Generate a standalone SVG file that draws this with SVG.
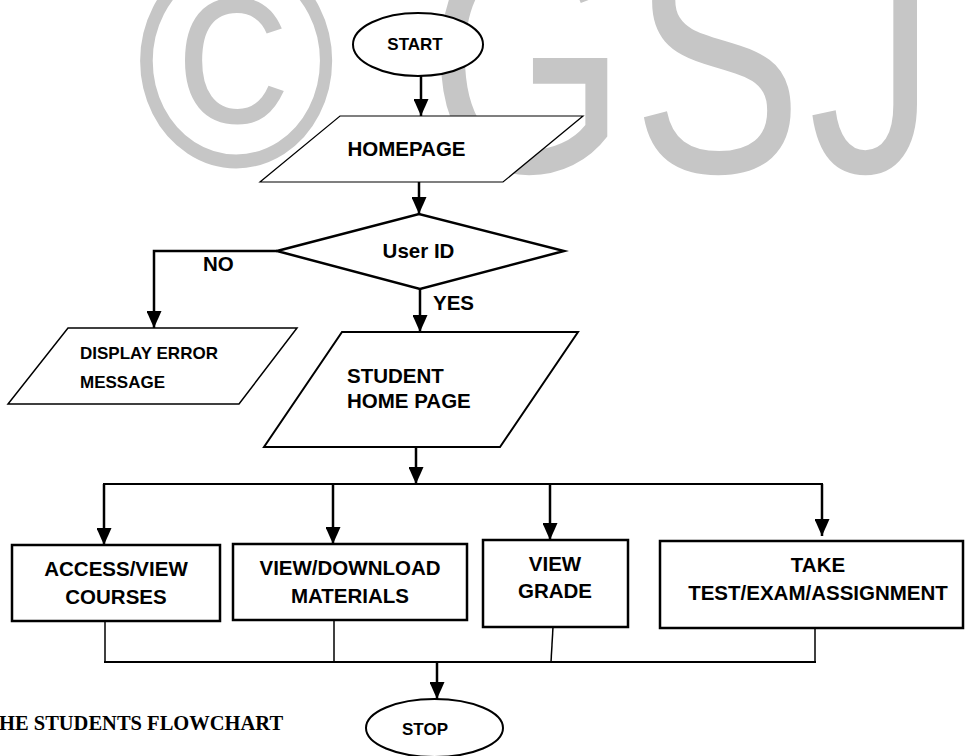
<svg xmlns="http://www.w3.org/2000/svg" width="967" height="756" viewBox="0 0 967 756">
  <defs>
    <style>
      .wm { font-family: "Liberation Sans", Arial, sans-serif; fill: #c6c6c6; }
      .shape { fill: #ffffff; stroke: #000000; }
      .lbl { font-family: "Liberation Sans", Arial, sans-serif; font-weight: bold; font-size: 20.5px; fill: #000000; }
      .lbl-sm { font-family: "Liberation Sans", Arial, sans-serif; font-weight: bold; font-size: 17px; fill: #000000; }
      .cap { font-family: "Liberation Serif", "Times New Roman", serif; font-weight: bold; font-size: 20.5px; fill: #000000; }
      .arrow { fill: none; stroke: #000000; stroke-width: 2.5; marker-end: url(#ah); }
      .line { fill: none; stroke: #000000; stroke-width: 1.5; }
      .bus { fill: none; stroke: #000000; stroke-width: 2; }
    </style>
    <marker id="ah" viewBox="0 0 17 15" markerUnits="userSpaceOnUse" markerWidth="17" markerHeight="15" refX="17" refY="7.5" orient="auto">
      <path d="M0,0 L17,7.5 L0,15 Z" fill="#000000"/>
    </marker>
  </defs>

  <rect x="0" y="0" width="967" height="756" fill="#ffffff"/>

  <g id="watermark">
    <text class="wm" x="136" y="0" font-size="272" transform="translate(0,166) scale(1,1.12)">©</text>
    <text class="wm" x="428" y="0" font-size="255" letter-spacing="6" transform="translate(0,172) scale(1,1.3)">GSJ</text>
  </g>

  <g id="connectors">
    <line class="arrow" x1="421" y1="76" x2="421" y2="116"/>
    <line class="arrow" x1="419" y1="182" x2="419" y2="214"/>
    <polyline class="arrow" points="277,251 154,251 154,328"/>
    <line class="arrow" x1="420" y1="289" x2="420" y2="332"/>
    <line class="arrow" x1="416" y1="447" x2="416" y2="484"/>
    <line class="bus" x1="103" y1="484" x2="823" y2="484"/>
    <line class="arrow" x1="104" y1="484" x2="104" y2="545"/>
    <line class="arrow" x1="333" y1="484" x2="333" y2="544"/>
    <line class="arrow" x1="550" y1="484" x2="550" y2="540"/>
    <line class="arrow" x1="822" y1="484" x2="822" y2="536"/>
    <line class="line" x1="105" y1="621" x2="105" y2="662"/>
    <line class="line" x1="334" y1="620" x2="334" y2="662"/>
    <line class="line" x1="553" y1="627" x2="551" y2="662"/>
    <line class="line" x1="815" y1="628" x2="815" y2="662"/>
    <line class="bus" x1="104" y1="662" x2="816" y2="662"/>
    <line class="arrow" x1="437" y1="662" x2="437" y2="699"/>
  </g>

  <g id="labels">
    <text class="lbl" x="203" y="271">NO</text>
    <text class="lbl" x="433" y="310">YES</text>
  </g>

  <g id="start">
    <ellipse class="shape" cx="418" cy="44.5" rx="65" ry="31.5" stroke-width="2"/>
    <text class="lbl-sm" x="415" y="50" text-anchor="middle">START</text>
  </g>

  <g id="homepage">
    <polygon class="shape" points="340,116 583,116 503,182 260,182" stroke-width="1.2"/>
    <text class="lbl" x="406.5" y="156" text-anchor="middle">HOMEPAGE</text>
  </g>

  <g id="user-id">
    <polygon class="shape" points="277,251 419,214 564,251 420,289" stroke-width="2.5"/>
    <text class="lbl" x="418.5" y="258" text-anchor="middle">User ID</text>
  </g>

  <g id="display-error">
    <polygon class="shape" points="68,328 297,328 239,404 8,404" stroke-width="1.5"/>
    <text class="lbl-sm" x="80" y="359">DISPLAY ERROR</text>
    <text class="lbl-sm" x="80" y="388">MESSAGE</text>
  </g>

  <g id="student-home">
    <polygon class="shape" points="342,332 578,332 500,447 264,447" stroke-width="2"/>
    <text class="lbl" x="347" y="383">STUDENT</text>
    <text class="lbl" x="347" y="408">HOME PAGE</text>
  </g>

  <g id="access-courses">
    <rect class="shape" x="12" y="545" width="208" height="76" stroke-width="2.5"/>
    <text class="lbl" x="116" y="576" text-anchor="middle">ACCESS/VIEW</text>
    <text class="lbl" x="116" y="604" text-anchor="middle">COURSES</text>
  </g>

  <g id="download-materials">
    <rect class="shape" x="233" y="544" width="234" height="76" stroke-width="2.5"/>
    <text class="lbl" x="350" y="575" text-anchor="middle">VIEW/DOWNLOAD</text>
    <text class="lbl" x="350" y="603" text-anchor="middle">MATERIALS</text>
  </g>

  <g id="view-grade">
    <rect class="shape" x="483" y="540" width="145" height="87" stroke-width="2.5"/>
    <text class="lbl" x="555" y="571" text-anchor="middle">VIEW</text>
    <text class="lbl" x="555" y="598" text-anchor="middle">GRADE</text>
  </g>

  <g id="take-test">
    <rect class="shape" x="660" y="541" width="303" height="87" stroke-width="2.5"/>
    <text class="lbl" x="818" y="572" text-anchor="middle">TAKE</text>
    <text class="lbl" x="818" y="600" text-anchor="middle">TEST/EXAM/ASSIGNMENT</text>
  </g>

  <g id="stop">
    <ellipse class="shape" cx="434.5" cy="728" rx="68.5" ry="29" stroke-width="2"/>
    <text class="lbl-sm" x="425" y="735" text-anchor="middle" font-size="18">STOP</text>
  </g>

  <g id="caption">
    <text class="cap" x="-1" y="730">HE STUDENTS FLOWCHART</text>
  </g>
</svg>
